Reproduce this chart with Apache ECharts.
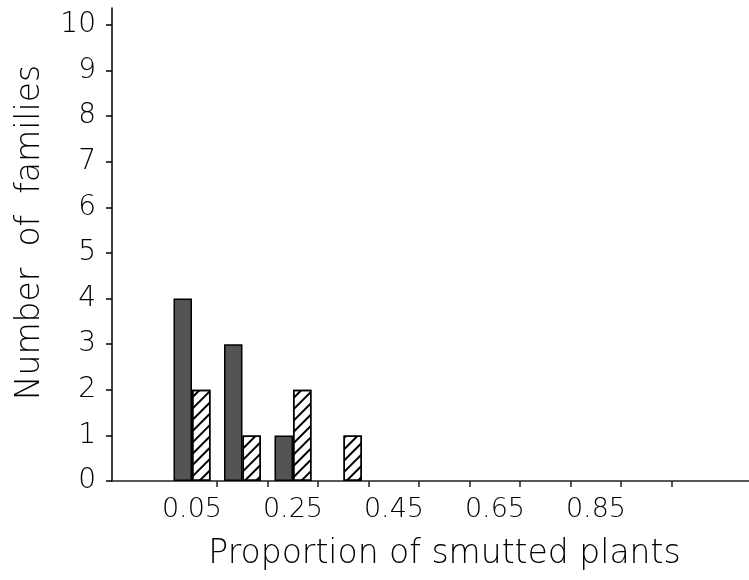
<!DOCTYPE html>
<html>
<head>
<meta charset="utf-8">
<script src="https://cdn.jsdelivr.net/npm/echarts@6/dist/echarts.min.js"></script>
<style>
  html, body { margin: 0; padding: 0; background: #fff; }
  #chart { width: 749px; height: 580px; }
</style>
</head>
<body>
<div id="chart"></div>
<script>
// bin centres (proportion of smutted plants)
const binsDark = [0.05, 0.15, 0.25];
const countsDark = [4, 3, 1];
const binsHatched = [0.05, 0.15, 0.25, 0.35];
const countsHatched = [2, 1, 2, 1];

const xLabelValues = [0.05, 0.25, 0.45, 0.65, 0.85];
const xTickValues = [0.1, 0.2, 0.3, 0.4, 0.5, 0.6, 0.7, 0.8, 0.9, 1.0];
const yTickValues = [0, 1, 2, 3, 4, 5, 6, 7, 8, 9, 10];

const font = "DejaVu Sans";

const chart = echarts.init(document.getElementById("chart"));
chart.setOption({
  animation: false,
  grid: { left: 112, right: 0, top: 8, bottom: 99, outerBoundsMode: "none" },
  xAxis: {
    type: "value",
    min: -0.1084,
    max: 1.153,
    splitLine: { show: false },
    axisLine: { lineStyle: { color: "#222", width: 1.5 } },
    axisTick: {
      customValues: xTickValues,
      length: 6,
      lineStyle: { color: "#222", width: 1.5 },
    },
    axisLabel: {
      customValues: xLabelValues,
      formatter: (v) => v.toFixed(2),
      margin: 15,
      color: "#000",
      fontFamily: font,
      fontWeight: 200,
      fontSize: 27,
    },
    name: "Proportion of smutted plants",
    nameLocation: "middle",
    nameGap: 57,
    nameTextStyle: {
      color: "#000",
      fontFamily: font,
      fontWeight: 200,
      fontSize: 33,
      padding: [0, 0, 0, 28],
    },
  },
  yAxis: {
    type: "value",
    min: 0,
    max: 10.37,
    splitLine: { show: false },
    axisLine: { show: true, onZero: false, lineStyle: { color: "#000", width: 1.5 } },
    axisTick: {
      show: true,
      customValues: yTickValues,
      length: 6,
      lineStyle: { color: "#000", width: 1.5 },
    },
    axisLabel: {
      customValues: yTickValues,
      margin: 16,
      color: "#000",
      fontFamily: font,
      fontWeight: 200,
      fontSize: 28,
    },
    name: "Number  of  families",
    nameLocation: "middle",
    nameGap: 65,
    nameTextStyle: {
      color: "#000",
      fontFamily: font,
      fontWeight: 200,
      fontSize: 33,
      padding: [0, 0, 0, 24],
    },
  },
  series: [
    {
      type: "bar",
      data: binsDark.map((b, i) => [b, countsDark[i]]),
      barWidth: 18.5,
      barGap: "0%",
      itemStyle: { color: "#545454", borderColor: "#000", borderWidth: 1.5 },
    },
    {
      type: "bar",
      data: binsHatched.map((b, i) => [b, countsHatched[i]]),
      barWidth: 18.5,
      barGap: "0%",
      itemStyle: {
        color: "#fff",
        borderColor: "#000",
        borderWidth: 1.5,
        decal: {
          symbol: "rect",
          color: "#000",
          dashArrayX: [1, 0],
          dashArrayY: [1.2, 5.5],
          rotation: -Math.PI / 4,
        },
      },
    },
  ],
});
</script>
</body>
</html>
